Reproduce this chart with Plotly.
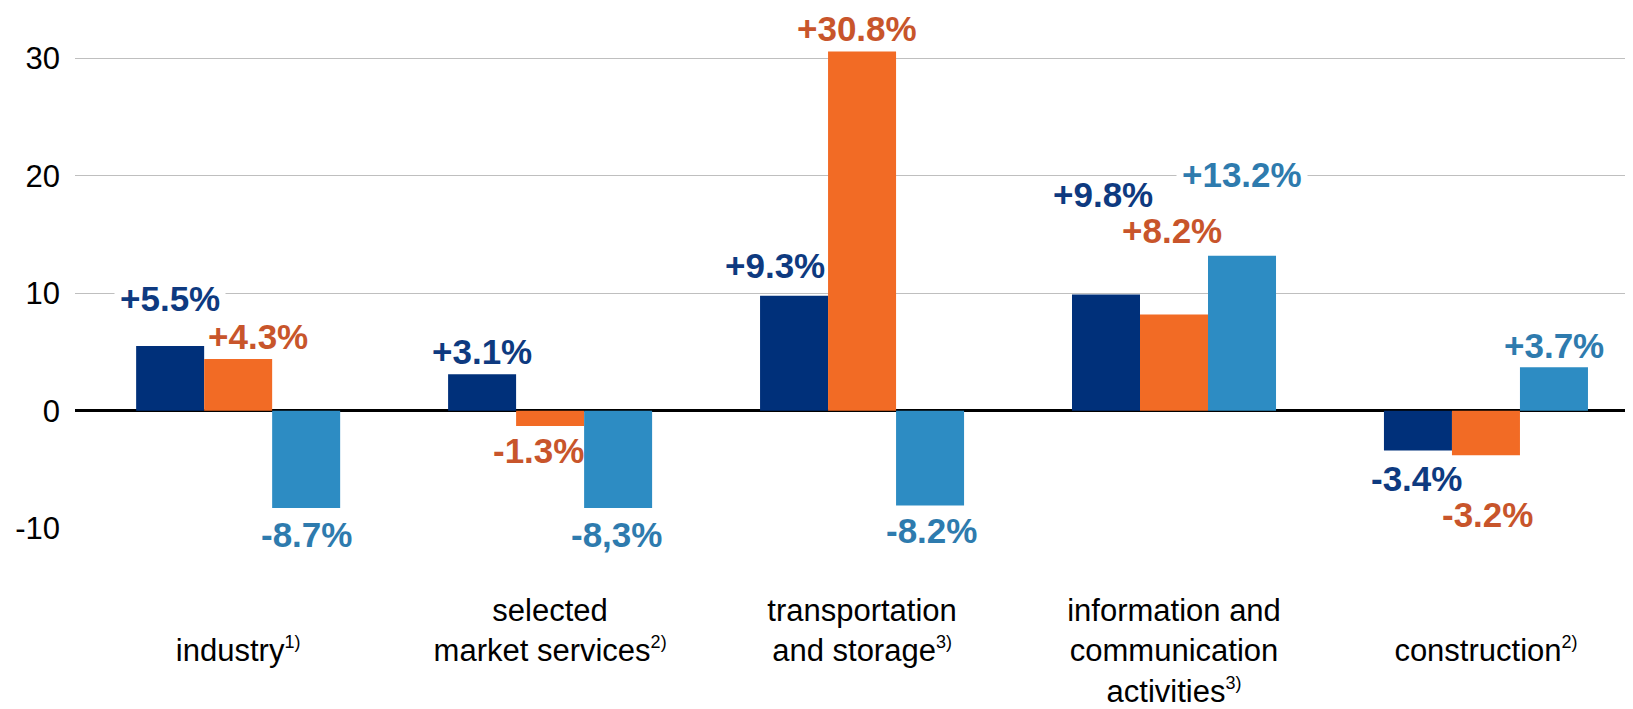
import plotly.graph_objects as go

# ---- data ----
categories = ["industry", "selected market services", "transportation and storage",
              "information and communication activities", "construction"]
SUP = "<sup><span style='font-size:18px'>{}</span></sup>"
tick_labels = [
    "<br>industry" + SUP.format("1)"),
    "selected<br>market services" + SUP.format("2)"),
    "transportation<br>and storage" + SUP.format("3)"),
    "information and<br>communication<br>activities" + SUP.format("3)"),
    "<br>construction" + SUP.format("2)"),
]
series_a = [5.5, 3.1, 9.8, 9.9, -3.4]      # dark blue
series_b = [4.4, -1.3, 30.6, 8.2, -3.8]    # orange
series_c = [-8.3, -8.3, -8.2, 13.2, 3.7]   # light blue
labels_a = ["+5.5%", "+3.1%", "+9.3%", "+9.8%", "-3.4%"]
labels_b = ["+4.3%", "-1.3%", "+30.8%", "+8.2%", "-3.2%"]
labels_c = ["-8.7%", "-8,3%", "-8.2%", "+13.2%", "+3.7%"]
y_ticks = [-10, 0, 10, 20, 30]
y_tick_text = ["-10", "0", "10", "20", "30"]

# ---- style ----
bar_colors = ["#00307A", "#F26B25", "#2D8CC3"]
text_colors = ["#0E3A80", "#C8552B", "#2E7BAE"]
FONT = "Liberation Sans, Arial, sans-serif"
BARGAP = 0.346

# label offsets in px from bar end: (dx, dy, white background)
offsets_a = [(0, 48, True), (0, 23, False), (-19, 30, False), (-3, 100, False), (-1, -28, False)]
offsets_b = [(20, 23, False), (-12, -25, False), (-5, 23, False), (-2, 84, False), (2, -59, True)]
offsets_c = [(0, -26, True), (-2, -26, True), (1, -24, True), (0, 81, True), (0, 22, False)]

fig = go.Figure()
series = [series_a, series_b, series_c]
names = ["a", "b", "c"]
for k, vals in enumerate(series):
    fig.add_trace(go.Bar(x=categories, y=vals, name=names[k],
                         marker=dict(color=bar_colors[k], line=dict(width=0)),
                         showlegend=False))

bw = (1 - BARGAP) / 3
ann = []
order = [1, 0, 2]
all_labels = [labels_a, labels_b, labels_c]
all_offsets = [offsets_a, offsets_b, offsets_c]
for k in order:
    vals = series[k]
    for i, v in enumerate(vals):
        dx, dy, bg = all_offsets[k][i]
        ann.append(dict(
            x=i + (k - 1) * bw, y=v, xref="x", yref="y",
            text="<b>" + all_labels[k][i] + "</b>", showarrow=False,
            xanchor="center", yanchor="middle", xshift=dx, yshift=dy,
            font=dict(family=FONT, size=35, color=text_colors[k]),
            bgcolor="white" if bg else "rgba(0,0,0,0)", borderpad=5,
        ))

fig.update_layout(
    width=1633, height=709,
    margin=dict(l=67, r=0, t=33, b=189),
    paper_bgcolor="white", plot_bgcolor="white",
    barmode="group", bargap=BARGAP, bargroupgap=0,
    annotations=ann,
    font=dict(family=FONT, color="black"),
    xaxis=dict(
        type="category", range=[-0.523, 4.497],
        tickvals=categories, ticktext=tick_labels,
        tickfont=dict(family=FONT, size=31, color="black"),
        showgrid=False, showline=False, zeroline=False, ticks="",
        ticklabelstandoff=61, automargin=False,
    ),
    yaxis=dict(
        range=[-10, 31.5], tickvals=y_ticks, ticktext=y_tick_text,
        tickfont=dict(family=FONT, size=31, color="black"),
        showgrid=True, gridcolor="#BFBFBF", gridwidth=1.3,
        zeroline=True, zerolinecolor="black", zerolinewidth=2.5,
        showline=False, ticks="", ticklabelstandoff=14, automargin=False,
    ),
)

fig.write_html("out.html")
